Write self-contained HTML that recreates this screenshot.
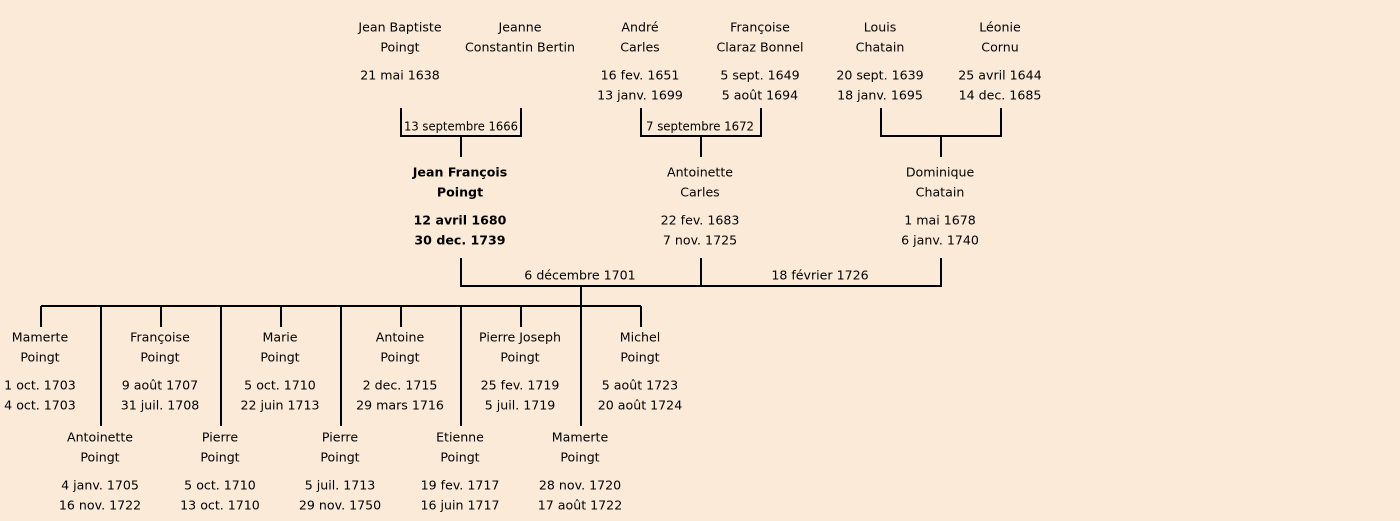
<!DOCTYPE html>
<html><head><meta charset="utf-8"><style>
html,body{margin:0;padding:0;background:#fbead8;}
svg{display:block}
text{font-family:"DejaVu Sans","Liberation Sans",sans-serif;font-size:12.6px;fill:#000;text-anchor:middle;dominant-baseline:central}
.b{font-weight:bold}
</style></head><body>
<svg width="1400" height="521" viewBox="0 0 1400 521" xmlns="http://www.w3.org/2000/svg">
<rect width="1400" height="521" fill="#fbead8"/>
<g stroke="#000" stroke-width="2" fill="none">
<path d="M401 108V136H521V108M461 136V157"/>
<path d="M641 108V136H761V108M701 136V157"/>
<path d="M881 108V136H1001V108M941 136V157"/>
<path d="M461 258V286H941V258M701 258V286M581 286V306"/>
<path d="M41 306H641"/>
<path d="M41 306V327M161 306V327M281 306V327M401 306V327M521 306V327M641 306V327"/>
<path d="M101 306V426M221 306V426M341 306V426M461 306V426M581 306V426"/>
</g>
<text x="400" y="27">Jean Baptiste</text><text x="400" y="47">Poingt</text><text x="400" y="75">21 mai 1638</text>
<text x="520" y="27">Jeanne</text><text x="520" y="47">Constantin Bertin</text>
<text x="640" y="27">André</text><text x="640" y="47">Carles</text><text x="640" y="75">16 fev. 1651</text><text x="640" y="95">13 janv. 1699</text>
<text x="760" y="27">Françoise</text><text x="760" y="47">Claraz Bonnel</text><text x="760" y="75">5 sept. 1649</text><text x="760" y="95">5 août 1694</text>
<text x="880" y="27">Louis</text><text x="880" y="47">Chatain</text><text x="880" y="75">20 sept. 1639</text><text x="880" y="95">18 janv. 1695</text>
<text x="1000" y="27">Léonie</text><text x="1000" y="47">Cornu</text><text x="1000" y="75">25 avril 1644</text><text x="1000" y="95">14 dec. 1685</text>
<text x="461" y="126" textLength="114" lengthAdjust="spacingAndGlyphs">13 septembre 1666</text>
<text x="700" y="126" textLength="108" lengthAdjust="spacingAndGlyphs">7 septembre 1672</text>
<text class="b" x="460" y="172">Jean François</text><text class="b" x="460" y="192">Poingt</text><text class="b" x="460" y="220">12 avril 1680</text><text class="b" x="460" y="240">30 dec. 1739</text>
<text x="700" y="172">Antoinette</text><text x="700" y="192">Carles</text><text x="700" y="220">22 fev. 1683</text><text x="700" y="240">7 nov. 1725</text>
<text x="940" y="172">Dominique</text><text x="940" y="192">Chatain</text><text x="940" y="220">1 mai 1678</text><text x="940" y="240">6 janv. 1740</text>
<text x="580" y="275">6 décembre 1701</text>
<text x="820" y="275">18 février 1726</text>
<text x="40" y="337">Mamerte</text><text x="40" y="357">Poingt</text><text x="40" y="385">1 oct. 1703</text><text x="40" y="405">4 oct. 1703</text>
<text x="160" y="337">Françoise</text><text x="160" y="357">Poingt</text><text x="160" y="385">9 août 1707</text><text x="160" y="405">31 juil. 1708</text>
<text x="280" y="337">Marie</text><text x="280" y="357">Poingt</text><text x="280" y="385">5 oct. 1710</text><text x="280" y="405">22 juin 1713</text>
<text x="400" y="337">Antoine</text><text x="400" y="357">Poingt</text><text x="400" y="385">2 dec. 1715</text><text x="400" y="405">29 mars 1716</text>
<text x="520" y="337">Pierre Joseph</text><text x="520" y="357">Poingt</text><text x="520" y="385">25 fev. 1719</text><text x="520" y="405">5 juil. 1719</text>
<text x="640" y="337">Michel</text><text x="640" y="357">Poingt</text><text x="640" y="385">5 août 1723</text><text x="640" y="405">20 août 1724</text>
<text x="100" y="437">Antoinette</text><text x="100" y="457">Poingt</text><text x="100" y="485">4 janv. 1705</text><text x="100" y="505">16 nov. 1722</text>
<text x="220" y="437">Pierre</text><text x="220" y="457">Poingt</text><text x="220" y="485">5 oct. 1710</text><text x="220" y="505">13 oct. 1710</text>
<text x="340" y="437">Pierre</text><text x="340" y="457">Poingt</text><text x="340" y="485">5 juil. 1713</text><text x="340" y="505">29 nov. 1750</text>
<text x="460" y="437">Etienne</text><text x="460" y="457">Poingt</text><text x="460" y="485">19 fev. 1717</text><text x="460" y="505">16 juin 1717</text>
<text x="580" y="437">Mamerte</text><text x="580" y="457">Poingt</text><text x="580" y="485">28 nov. 1720</text><text x="580" y="505">17 août 1722</text>
</svg>
</body></html>
